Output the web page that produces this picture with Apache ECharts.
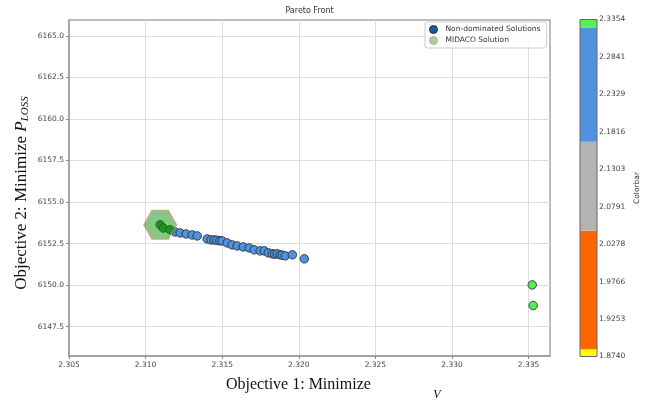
<!DOCTYPE html>
<html>
<head>
<meta charset="utf-8">
<script src="https://cdn.jsdelivr.net/npm/echarts@6/dist/echarts.min.js"></script>
<style>html,body{margin:0;padding:0;background:#fff;}#c{width:652px;height:401px;}</style>
</head>
<body>
<div id="c"></div>
<script>
// ---- data ----
const xTicks = [2.305, 2.310, 2.315, 2.320, 2.325, 2.330, 2.335];
const yTicks = [6147.5, 6150.0, 6152.5, 6155.0, 6157.5, 6160.0, 6162.5, 6165.0];
const cbTicks = [1.8740, 1.9253, 1.9766, 2.0278, 2.0791, 2.1303, 2.1816, 2.2329, 2.2841, 2.3354];
const cbBandEdges = [1.8740, 1.8840, 2.0460, 2.1680, 2.3244, 2.3354];
const cbBandColors = ['#ffff00', '#ff6600', '#b3b3b3', '#4f93de', '#55ee55'];

// non-dominated solutions (x, y, colour value)
const ndX = [2.31193, 2.31226, 2.31265, 2.31304, 2.31337, 2.31402, 2.31428,
             2.31448, 2.31465, 2.31485, 2.31500, 2.31533, 2.31565, 2.31598, 2.31637, 2.31676, 2.31709,
             2.31748, 2.31775, 2.31801, 2.31827, 2.31842, 2.31859, 2.31879, 2.31893, 2.31912, 2.31958,
             2.32036, 2.33524, 2.33530];
const ndY = [6153.20, 6153.14, 6153.08, 6153.02, 6152.96, 6152.78, 6152.72,
             6152.72, 6152.70, 6152.67, 6152.66, 6152.54, 6152.42, 6152.36, 6152.30, 6152.24, 6152.12,
             6152.06, 6152.06, 6151.94, 6151.88, 6151.86, 6151.88, 6151.82, 6151.80, 6151.76, 6151.82,
             6151.58, 6150.01, 6148.77];
const ndC = [2.250, 2.250, 2.250, 2.250, 2.250, 2.250, 2.250,
             2.250, 2.250, 2.250, 2.250, 2.250, 2.250, 2.250, 2.250, 2.250, 2.250,
             2.250, 2.250, 2.250, 2.250, 2.250, 2.250, 2.250, 2.250, 2.250, 2.250,
             2.250, 2.330, 2.330];
// non-dominated solutions lying under the MIDACO marker
const nearX = [2.31095, 2.31116, 2.31160];
const nearY = [6153.63, 6153.43, 6153.33];
const midacoX = [2.31095];
const midacoY = [6153.63];

// ---- chart ----
const chart = echarts.init(document.getElementById('c'), null, {renderer: 'canvas'});
const labelFont = {fontFamily: 'DejaVu Sans', fontSize: 7.5, color: '#444'};

const pieces = cbBandColors.map((c, i) => {
  const p = {gte: cbBandEdges[i], color: c};
  if (i < cbBandColors.length - 1) p.lt = cbBandEdges[i + 1]; else p.lte = cbBandEdges[i + 1];
  return p;
});

const option = {
  animation: false,
  backgroundColor: '#fff',
  grid: [
    {left: 69, right: 102, top: 20, bottom: 45, show: true, borderColor: '#a6a6a6', borderWidth: 1.5},
    {left: 580, width: 17, top: 19.5, height: 337, show: false}
  ],
  xAxis: [
    {type: 'value', gridIndex: 0, min: 2.305, max: 2.3364, interval: 0.005,
     axisLine: {show: true, onZero: false, lineStyle: {color: '#999', width: 1.5}},
     axisTick: {show: true, length: 3, lineStyle: {color: '#888'}, customValues: xTicks},
     axisLabel: Object.assign({margin: 5, customValues: xTicks, formatter: v => v.toFixed(3)}, labelFont),
     splitLine: {show: true, lineStyle: {color: '#dcdcdc', width: 1}}},
    {type: 'value', gridIndex: 1, min: 0, max: 1, show: false}
  ],
  yAxis: [
    {type: 'value', gridIndex: 0, min: 6145.73, max: 6165.96, interval: 2.5,
     axisLine: {show: true, onZero: false, lineStyle: {color: '#999', width: 1.5}},
     axisTick: {show: true, length: 3, lineStyle: {color: '#888'}, customValues: yTicks},
     axisLabel: Object.assign({margin: 5, customValues: yTicks, formatter: v => v.toFixed(1)}, labelFont),
     splitLine: {show: true, lineStyle: {color: '#dcdcdc', width: 1}}},
    {type: 'value', gridIndex: 1, position: 'right', min: cbTicks[0], max: cbTicks[cbTicks.length - 1],
     axisLine: {show: false},
     axisTick: {show: true, length: 3, inside: false, lineStyle: {color: '#555'}, customValues: cbTicks},
     axisLabel: Object.assign({margin: 2, customValues: cbTicks, formatter: v => v.toFixed(4)}, labelFont),
     splitLine: {show: false},
     name: 'Colorbar', nameLocation: 'middle', nameGap: 36, nameRotate: 90,
     nameTextStyle: {fontFamily: 'DejaVu Sans', fontSize: 7.5, color: '#333'}}
  ],
  visualMap: {type: 'piecewise', show: false, dimension: 2, seriesIndex: 0, pieces: pieces},
  legend: {
    orient: 'vertical', left: 425, top: 22, padding: [3, 6, 3, 4], itemGap: 2,
    itemWidth: 14, itemHeight: 8, icon: 'circle',
    borderColor: '#cccccc', borderWidth: 1, borderRadius: 2, backgroundColor: 'rgba(255,255,255,0.85)',
    textStyle: {fontFamily: 'DejaVu Sans', fontSize: 7.5, color: '#333'},
    data: [
      {name: 'Non-dominated Solutions', itemStyle: {color: '#1f5b9c', borderColor: '#1a2f4f', borderWidth: 1}},
      {name: 'MIDACO Solution', itemStyle: {color: '#86c886', borderColor: '#e8907a', borderWidth: 1}}
    ]
  },
  series: [
    {name: 'Non-dominated Solutions', type: 'scatter', xAxisIndex: 0, yAxisIndex: 0,
     symbolSize: 8.5, z: 3,
     itemStyle: {borderColor: '#222', borderWidth: 0.8, opacity: 1},
     data: ndX.map((x, i) => [x, ndY[i], ndC[i]])},
    {name: 'Non-dominated Solutions', type: 'scatter', xAxisIndex: 0, yAxisIndex: 0,
     symbolSize: 8.5, z: 3,
     itemStyle: {color: '#3a9a4a', borderColor: '#1a3a1a', borderWidth: 0.8, opacity: 1},
     data: nearX.map((x, i) => [x, nearY[i]])},
    {name: 'MIDACO Solution', type: 'scatter', xAxisIndex: 0, yAxisIndex: 0, z: 4,
     symbol: 'path://M-2,0 L-1,-1.732 L1,-1.732 L2,0 L1,1.732 L-1,1.732 Z',
     symbolSize: [33, 29],
     itemStyle: {color: 'rgba(0,138,0,0.6)', borderColor: '#e8907a', borderWidth: 1},
     data: midacoX.map((x, i) => [x, midacoY[i]])},
    {name: 'cb', type: 'scatter', xAxisIndex: 1, yAxisIndex: 1, silent: true, symbolSize: 0,
     data: [[0.5, cbTicks[0]]],
     markArea: {silent: true,
       data: cbBandColors.map((c, i) => [
         {yAxis: cbBandEdges[i], itemStyle: {color: c, opacity: 1}},
         {yAxis: cbBandEdges[i + 1]}
       ])}}
  ],
  graphic: [
    {type: 'rect', z: 100, silent: true, shape: {x: 580, y: 19.5, width: 17, height: 337},
     style: {fill: null, stroke: '#666', lineWidth: 1}},
    {type: 'text', x: 309.5, y: 11, silent: true,
     style: {text: 'Pareto Front', align: 'center', verticalAlign: 'middle',
             font: '8px "DejaVu Sans"', fill: '#333'}},
    {type: 'text', x: 226, y: 385, silent: true,
     style: {text: 'Objective 1: Minimize', align: 'left', verticalAlign: 'middle',
             font: '16px "Liberation Serif"', fill: '#111'}},
    {type: 'text', x: 437, y: 395, silent: true,
     style: {text: 'V', align: 'center', verticalAlign: 'middle',
             font: 'italic 12px "Liberation Serif"', fill: '#111'}},
    {type: 'text', x: 22, y: 193, rotation: Math.PI / 2, silent: true,
     style: {text: 'Objective 2: Minimize {p|P}{s|LOSS}', align: 'center', verticalAlign: 'middle',
             font: '17px "Liberation Serif"', fill: '#111',
             rich: {p: {font: 'italic 17px "Liberation Serif"', fill: '#111', verticalAlign: 'middle'},
                    s: {font: 'italic 11px "Liberation Serif"', fill: '#111', verticalAlign: 'bottom', padding: [6, 0, 0, 0]}}}}
  ]
};
chart.setOption(option);
</script>
</body>
</html>
